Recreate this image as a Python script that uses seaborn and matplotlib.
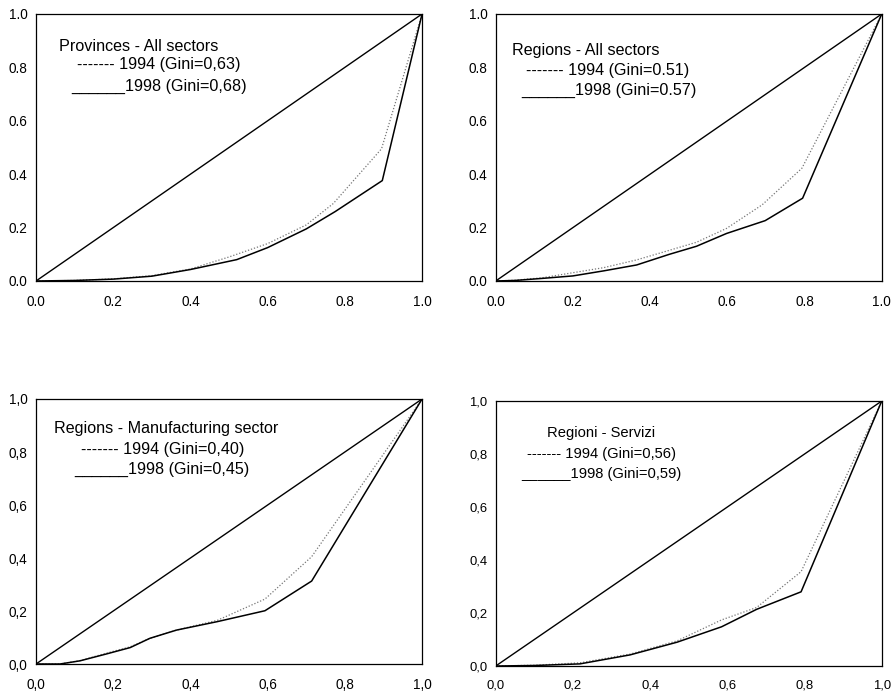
import matplotlib
matplotlib.use("Agg")
import matplotlib.pyplot as plt
import seaborn as sns
import numpy as np

# ---------------- data ----------------
# Panel 1: Provinces - All sectors
p1_x94 = [0, 0.10, 0.20, 0.30, 0.40, 0.50, 0.60, 0.70, 0.77, 0.895, 1.0]
p1_y94 = [0, 0.002, 0.008, 0.020, 0.045, 0.090, 0.140, 0.210, 0.290, 0.495, 1.0]
p1_x98 = [0, 0.10, 0.20, 0.30, 0.40, 0.52, 0.60, 0.70, 0.775, 0.897, 1.0]
p1_y98 = [0, 0.002, 0.007, 0.018, 0.043, 0.080, 0.125, 0.195, 0.260, 0.376, 1.0]

# Panel 2: Regions - All sectors
p2_x94 = [0, 0.05, 0.12, 0.20, 0.28, 0.365, 0.45, 0.52, 0.598, 0.69, 0.793, 1.0]
p2_y94 = [0, 0.003, 0.012, 0.031, 0.050, 0.079, 0.115, 0.145, 0.197, 0.285, 0.422, 1.0]
p2_x98 = [0, 0.05, 0.123, 0.20, 0.28, 0.365, 0.45, 0.52, 0.598, 0.698, 0.795, 1.0]
p2_y98 = [0, 0.002, 0.010, 0.019, 0.038, 0.060, 0.100, 0.130, 0.178, 0.226, 0.310, 1.0]

# Panel 3: Regions - Manufacturing sector
p3_x = [0, 0.062, 0.114, 0.18, 0.244, 0.295, 0.364, 0.47, 0.593, 0.714, 1.0]
p3_y94 = [0, 0.0, 0.013, 0.040, 0.065, 0.097, 0.128, 0.165, 0.245, 0.405, 1.0]
p3_y98 = [0, 0.0, 0.012, 0.037, 0.062, 0.097, 0.128, 0.160, 0.201, 0.313, 1.0]

# Panel 4: Regioni - Servizi
p4_x = [0, 0.10, 0.218, 0.348, 0.47, 0.585, 0.676, 0.791, 1.0]
p4_y94 = [0, 0.003, 0.012, 0.045, 0.095, 0.174, 0.221, 0.356, 1.0]
p4_y98 = [0, 0.002, 0.008, 0.042, 0.090, 0.148, 0.214, 0.280, 1.0]

equal_x = [0, 1]
equal_y = [0, 1]

ticks = [0.0, 0.2, 0.4, 0.6, 0.8, 1.0]
labels_dot = ["0.0", "0.2", "0.4", "0.6", "0.8", "1.0"]
labels_comma = ["0,0", "0,2", "0,4", "0,6", "0,8", "1,0"]

titles = ["Provinces - All sectors", "Regions - All sectors",
          "Regions - Manufacturing sector", "Regioni - Servizi"]
leg94 = ["------- 1994 (Gini=0,63)", "------- 1994 (Gini=0.51)",
         "------- 1994 (Gini=0,40)", "------- 1994 (Gini=0,56)"]
leg98 = ["______1998 (Gini=0,68)", "______1998 (Gini=0.57)",
         "______1998 (Gini=0,45)", "______1998 (Gini=0,59)"]

# ---------------- style ----------------
sns.set_theme(style="white")
plt.rcParams['font.family'] = ['Liberation Sans', 'DejaVu Sans']

fig = plt.figure(figsize=(8.94, 6.95), dpi=100)
positions = [
    [0.0403, 0.5957, 0.4318, 0.3842],
    [0.5545, 0.5957, 0.4318, 0.3842],
    [0.0403, 0.0446, 0.4318, 0.3813],
    [0.5545, 0.0417, 0.4318, 0.3813],
]
data = [
    (p1_x94, p1_y94, p1_x98, p1_y98),
    (p2_x94, p2_y94, p2_x98, p2_y98),
    (p3_x, p3_y94, p3_x, p3_y98),
    (p4_x, p4_y94, p4_x, p4_y98),
]
# text positions (axes data coords): title, line94, line98
text_pos = [
    [(0.06, 0.88), (0.106, 0.81), (0.09, 0.73)],
    [(0.043, 0.865), (0.079, 0.79), (0.066, 0.715)],
    [(0.047, 0.887), (0.117, 0.81), (0.10, 0.735)],
    [(0.134, 0.878), (0.08, 0.80), (0.067, 0.725)],
]
text_sizes = [11.6, 11.6, 11.6, 10.6]
tick_sizes = [9.8, 9.8, 9.8, 9.4]

for i in range(4):
    ax = fig.add_axes(positions[i])
    x94, y94, x98, y98 = data[i]
    sns.lineplot(x=equal_x, y=equal_y, ax=ax, color="black", lw=1.0, sort=False)
    sns.lineplot(x=x94, y=y94, ax=ax, color="#777777", lw=0.9,
                 linestyle=(0, (1, 1.5)), sort=False)
    sns.lineplot(x=x98, y=y98, ax=ax, color="black", lw=1.1, sort=False)
    ax.set_xlim(0, 1)
    ax.set_ylim(0, 1)
    ax.set_xlabel("")
    ax.set_ylabel("")
    ax.set_xticks(ticks)
    ax.set_yticks(ticks)
    lab = labels_dot if i < 2 else labels_comma
    ax.set_xticklabels(lab, fontsize=tick_sizes[i])
    ax.set_yticklabels(lab, fontsize=tick_sizes[i])
    ax.tick_params(axis='x', direction='in', length=4, width=0.8, color='black', pad=10)
    ax.tick_params(axis='y', direction='out', length=3, width=0.8, color='black', pad=3)
    ax.tick_params(labelcolor='black')
    for s in ax.spines.values():
        s.set_visible(True)
        s.set_color('black')
        s.set_linewidth(0.9)
    ax.patch.set_facecolor('white')
    for (tx, ty), txt in zip(text_pos[i], [titles[i], leg94[i], leg98[i]]):
        ax.text(tx, ty, txt, fontsize=text_sizes[i], ha='left', va='center',
                color='black')

fig.savefig("out.png", dpi=100, facecolor='white')
